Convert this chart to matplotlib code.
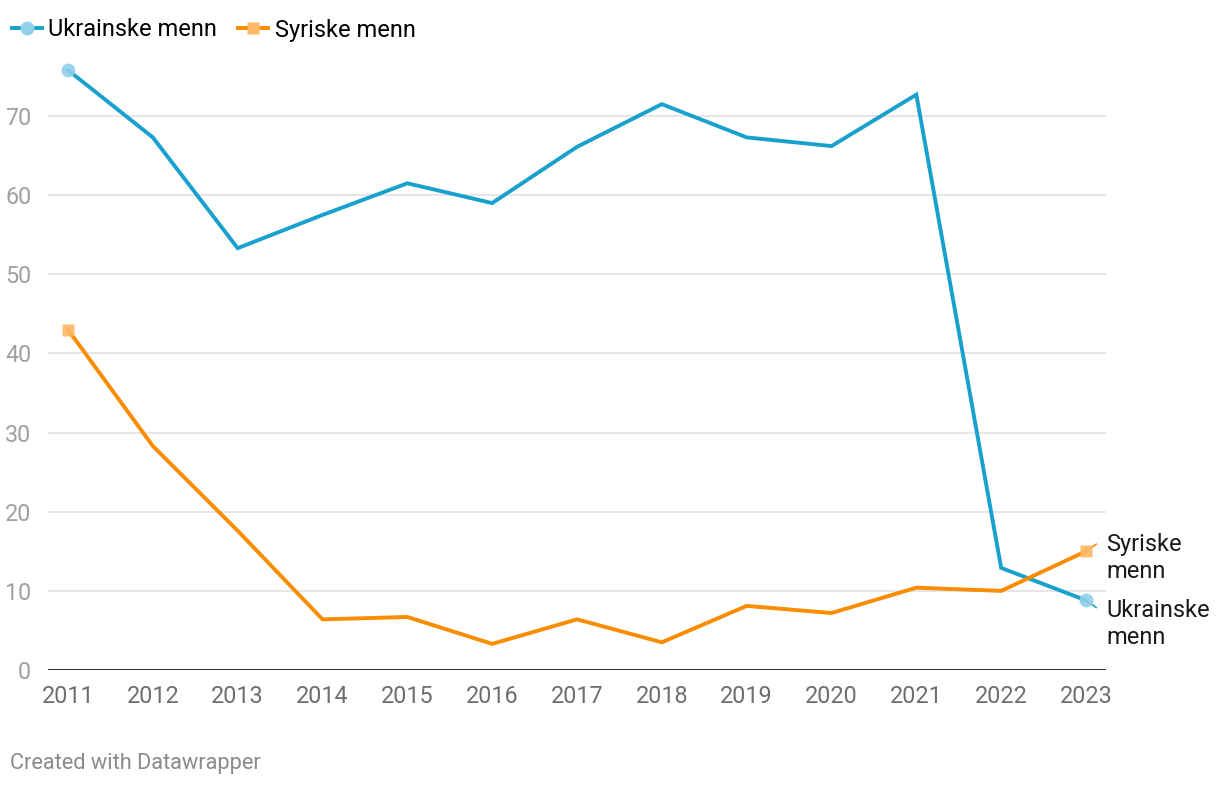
import matplotlib
matplotlib.use("Agg")
import matplotlib.pyplot as plt
from matplotlib.lines import Line2D

plt.rcParams['font.family'] = ['Roboto', 'DejaVu Sans']

years = [2011, 2012, 2013, 2014, 2015, 2016, 2017, 2018, 2019, 2020, 2021, 2022, 2023]
ukrainske = [75.8, 67.3, 53.3, 57.5, 61.5, 59.0, 66.1, 71.5, 67.3, 66.2, 72.7, 12.9, 8.8]
syriske = [43.0, 28.3, 17.6, 6.4, 6.7, 3.3, 6.4, 3.5, 8.1, 7.2, 10.4, 10.0, 15.0]
yticks = [0, 10, 20, 30, 40, 50, 60, 70]
series_names = ["Ukrainske menn", "Syriske menn"]
end_labels = ["Ukrainske\nmenn", "Syriske\nmenn"]

BLUE = "#18a1cd"
ORANGE = "#fa8c00"
W, H = 1220, 786

fig = plt.figure(figsize=(W / 100, H / 100), dpi=100)
ax = fig.add_axes([48 / W, (H - 670) / H, (1106 - 48) / W, 610 / H])

px_per_year = (1086 - 68) / 12
ax.set_xlim(2011 - 20 / px_per_year, 2023 + 20 / px_per_year)
ax.set_ylim(0, 610 / 7.914)

for y in yticks[1:]:
    ax.axhline(y, color="#e1e1e1", lw=1.2, zorder=0)
ax.axhline(0, color="#1a1a1a", lw=2, zorder=3)

ax.plot(years, ukrainske, color=BLUE, lw=2.8, zorder=4, solid_joinstyle='miter')
ax.plot(years, syriske, color=ORANGE, lw=2.8, zorder=4, solid_joinstyle='miter')

# start/end markers
ax.plot([years[0], years[-1]], [ukrainske[0], ukrainske[-1]], 'o', color="#8fd0ea",
        ms=10, mec='none', zorder=5, alpha=0.9)
ax.plot([years[0], years[-1]], [syriske[0], syriske[-1]], 's', color="#fdb865",
        ms=9, mec='none', zorder=5, alpha=0.9)

# short connector ticks to end labels
ax.plot([years[-1], years[-1] + 0.12], [ukrainske[-1], ukrainske[-1] - 0.9], color=BLUE, lw=1.2, zorder=4)
ax.plot([years[-1], years[-1] + 0.12], [syriske[-1], syriske[-1] + 0.9], color=ORANGE, lw=1.2, zorder=4)

ax.text(2023.24, 9.0, end_labels[0], fontsize=17, color="#1a1a1a", va='top', ha='left',
        linespacing=1.24, clip_on=False)
ax.text(2023.24, 17.3, end_labels[1], fontsize=17, color="#1a1a1a", va='top', ha='left',
        linespacing=1.24, clip_on=False)

ax.set_xticks(years)
ax.set_xticklabels([str(y) for y in years], fontsize=16.8, color="#6e6e6e")
ax.set_yticks(yticks)
ax.set_yticklabels([str(y) for y in yticks], fontsize=16.8, color="#a0a0a0")
ax.tick_params(axis='x', length=0, pad=11)
ax.tick_params(axis='y', length=0, pad=12)
for s in ax.spines.values():
    s.set_visible(False)

handles = [
    Line2D([0], [0], color=BLUE, lw=2.8, marker='o', ms=10, mfc="#8fd0ea", mec='none'),
    Line2D([0], [0], color=ORANGE, lw=2.8, marker='s', ms=9, mfc="#fdb865", mec='none'),
]
fig.legend(handles, series_names, loc='center left', bbox_to_anchor=(12 / W, 1 - 30 / H),
           ncol=2, frameon=False, fontsize=17, handlelength=1.27, handletextpad=0.27,
           columnspacing=0.9, borderaxespad=0, borderpad=0.0)

fig.text(10 / W, 1 - 764 / H, "Created with Datawrapper", fontsize=15.7, color="#8a8a8a",
         va='center', ha='left')

fig.savefig("out.png", dpi=100)
